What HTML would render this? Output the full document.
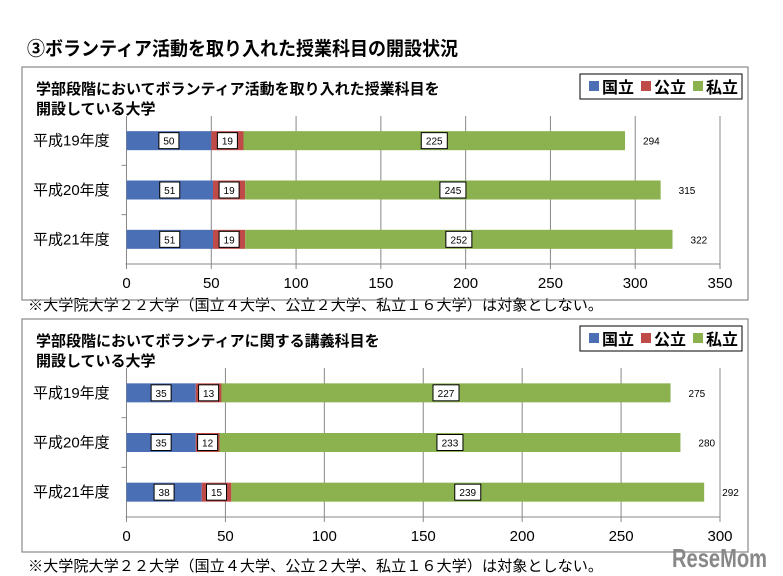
<!DOCTYPE html>
<html><head><meta charset="utf-8"><style>
body{margin:0;background:#fff;width:783px;height:576px;overflow:hidden}
svg{display:block;font-family:"Liberation Sans","Noto Sans CJK JP",sans-serif}
</style></head><body>
<svg id="s" width="783" height="576" viewBox="0 0 783 576">
<text x="27" y="55" font-size="19" font-weight="bold" textLength="431" lengthAdjust="spacingAndGlyphs">③ボランティア活動を取り入れた授業科目の開設状況</text>
<text x="28" y="310" font-size="15" textLength="575" lengthAdjust="spacingAndGlyphs">※大学院大学２２大学（国立４大学、公立２大学、私立１６大学）は対象としない。</text>
<text x="28" y="571" font-size="15" textLength="575" lengthAdjust="spacingAndGlyphs">※大学院大学２２大学（国立４大学、公立２大学、私立１６大学）は対象としない。</text>
<text x="672" y="567" font-size="26" font-weight="bold" fill="#888" textLength="95" lengthAdjust="spacingAndGlyphs">ReseMom</text>
</svg>
<script>
const categories = ["平成19年度","平成20年度","平成21年度"];
const c1National = [50,51,51];
const c1Public = [19,19,19];
const c1Private = [225,245,252];
const c1Totals = [294,315,322];
const c1Ticks = [0,50,100,150,200,250,300,350];
const c2National = [35,35,38];
const c2Public = [13,12,15];
const c2Private = [227,233,239];
const c2Totals = [275,280,292];
const c2Ticks = [0,50,100,150,200,250,300];
const legendLabels = ["国立","公立","私立"];
const colors = ["#4a6fb5","#be4b48","#8bb24f"];
const NS = "http://www.w3.org/2000/svg";
const svg = document.getElementById("s");
function mk(tag, attrs, parent, text){
  const e = document.createElementNS(NS, tag);
  for (const k in attrs) e.setAttribute(k, attrs[k]);
  if (text !== undefined) e.textContent = text;
  (parent || svg).appendChild(e);
  return e;
}
function drawChart(cfg){
  const g = mk("g", {});
  
  
  const frame = mk("rect", {x:cfg.bx, y:cfg.by, width:cfg.bw, height:cfg.bh, fill:"none", stroke:"#888", "stroke-width":1.2}, g);
  
  
  cfg.title.forEach((t,i)=>{
    const tt = mk("text", {x:36, y:cfg.by+27+i*20, "font-size":15, "font-weight":"bold"}, g, t);
    
    
  });
  const lg = mk("g", {}, g);
  
  
  mk("rect", {x:580, y:cfg.ly, width:162, height:25, fill:"#fff", stroke:"#000", "stroke-width":1}, lg);
  legendLabels.forEach((l,i)=>{
    const x = 589 + i*52;
    const sw = mk("rect", {x:x, y:cfg.ly+7, width:10, height:10, fill:colors[i]}, lg);
    
    
    const lt = mk("text", {x:x+13, y:cfg.ly+19, "font-size":16, "font-weight":"bold"}, lg, l);
    
    
  });
  const x0 = 126.5, x1 = 720;
  const sx = v => x0 + (v / cfg.max) * (x1 - x0);
  const top = cfg.top, bot = cfg.bot;
  const band = (bot - top) / categories.length;
  cfg.ticks.forEach(t=>{
    const x = sx(t);
    const gl = mk("line", {x1:x, x2:x, y1:top, y2:bot+5, stroke:"#888", "stroke-width":1}, g);
    
    
    const tl = mk("text", {x:x, y:bot+24, "font-size":15, "text-anchor":"middle"}, g, t);
    
    
  });
  const ax = mk("line", {x1:x0-1, x2:x1, y1:bot, y2:bot, stroke:"#888", "stroke-width":1}, g);
  
  
  for (let i=1;i<categories.length;i++){
    mk("line", {x1:x0-5, x2:x0, y1:top+band*i, y2:top+band*i, stroke:"#888"}, g);
  }
  categories.forEach((c,i)=>{
    const cy = top + band*(i+0.5);
    const cl = mk("text", {x:33, y:cy+5, "font-size":15}, g, c);
    
    
    const segs = [cfg.nat[i], cfg.pub[i], cfg.pri[i]];
    let acc = 0;
    segs.forEach((v,k)=>{
      const xa = sx(acc), xb = sx(acc+v);
      const r = mk("rect", {x:xa, y:cy-9.5, width:xb-xa, height:19, fill:colors[k]}, g);
      
      
      const w = String(v).length*6+8;
      const mx = (xa+xb)/2;
      mk("rect", {x:mx-w/2, y:cy-8, width:w, height:16, fill:"#fff", stroke:"#000", "stroke-width":1}, g);
      const vl = mk("text", {x:mx, y:cy+4, "font-size":10, "text-anchor":"middle"}, g, v);
      
      
      acc += v;
    });
    const tot = mk("text", {x:sx(cfg.tot[i])+18, y:cy+4, "font-size":10}, g, cfg.tot[i]);
    
    
  });
}
drawChart({name:"chart-activity-courses", bx:22, by:67, bw:726, bh:233, ly:74, top:116, bot:264, max:350,
  ticks:c1Ticks, nat:c1National, pub:c1Public, pri:c1Private, tot:c1Totals,
  title:["学部段階においてボランティア活動を取り入れた授業科目を","開設している大学"]});
drawChart({name:"chart-lecture-courses", bx:22, by:319, bw:726, bh:233, ly:326, top:368, bot:517, max:300,
  ticks:c2Ticks, nat:c2National, pub:c2Public, pri:c2Private, tot:c2Totals,
  title:["学部段階においてボランティアに関する講義科目を","開設している大学"]});
</script>
</body></html>
